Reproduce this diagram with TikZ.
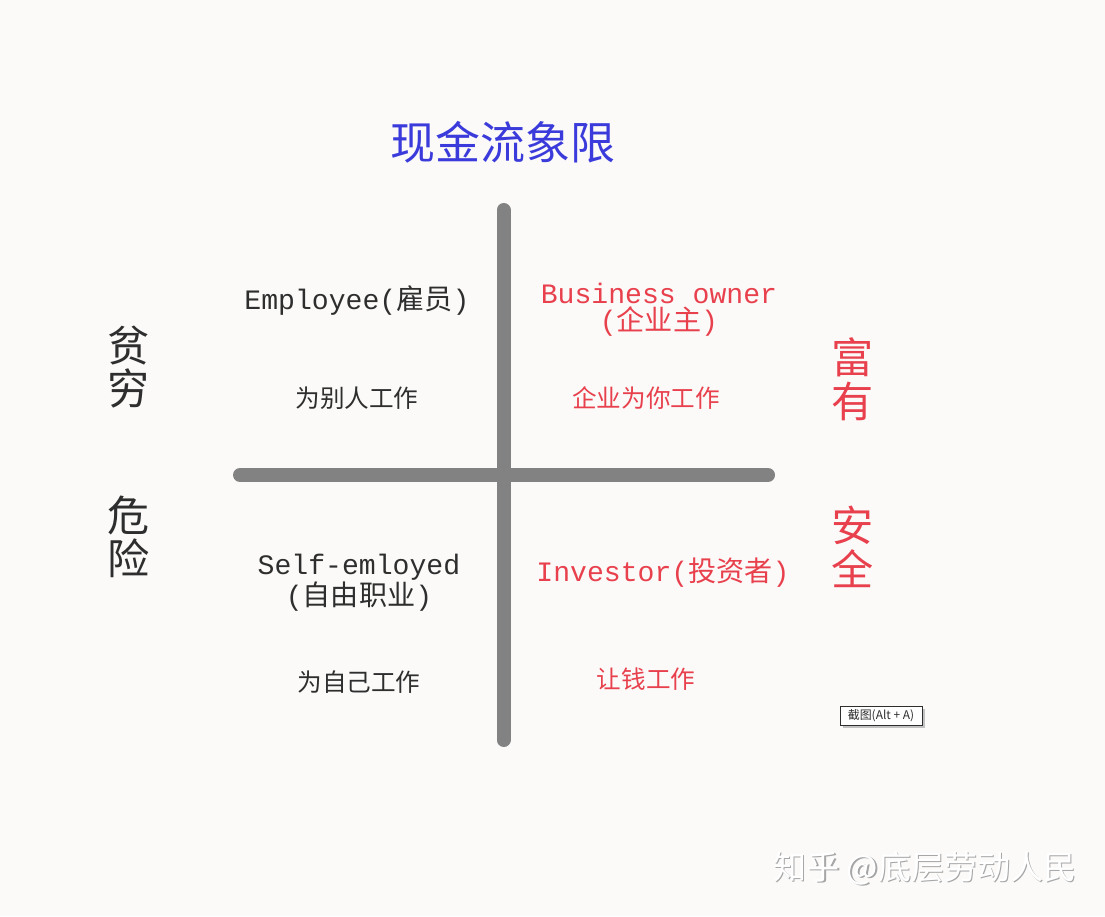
\documentclass[tikz,border=0pt]{standalone}
\usepackage{fontspec}
\setmainfont{Liberation Mono}
\newfontfamily\cjk{Noto Sans CJK SC}
\usetikzlibrary{positioning,shadows}
\definecolor{qblue}{HTML}{3B3BDB}
\definecolor{qred}{HTML}{E8404C}
\definecolor{qtext}{HTML}{2E2E2E}
\definecolor{qbar}{HTML}{828282}
\definecolor{qbg}{HTML}{FBFAF9}
\newcommand{\zh}[1]{{\cjk #1}}
\tikzset{
  role/.style={inner sep=0pt,align=center,font=\fontsize{20}{19}\selectfont},
  task/.style={inner sep=0pt,font=\cjk\fontsize{17.5}{20}\selectfont},
  side/.style={inner sep=0pt,align=center,font=\cjk\fontsize{30}{31}\selectfont},
  axis/.style={line width=14*0.025cm,qbar,line cap=round}
}

\begin{document}
\begin{tikzpicture}[x=0.025cm,y=-0.025cm]
  \fill[qbg] (0,0) rectangle (1105,916);
  \useasboundingbox (0,0) rectangle (1105,916);
  % title
  \node[inner sep=0pt,qblue,font=\cjk\fontsize{32}{34}\selectfont] (title) at (503,142) {现金流象限};
  % the two axes
  \coordinate (vtop) at (503.5,210);
  \coordinate (vbot) at (503.5,740);
  \coordinate (hleft) at (240,475);
  \coordinate (hright) at (768,475);
  \draw[axis] (vtop) -- (vbot);
  \draw[axis] (hleft) -- (hright);
  % upper quadrants
  \node[role,qtext] (emp) at (357,300) {Employee(\zh{雇员})};
  \node[task,qtext] (empw) at (357,398) {为别人工作};
  \node[role,qred] (bus) at (659,310) {Business owner\\(\zh{企业主})};
  \node[task,qred] (busw) at (646,398) {企业为你工作};
  % lower quadrants
  \node[role,qtext] (self) at (359,583) {Self-emloyed\\(\zh{自由职业})};
  \node[task,qtext] (selfw) at (359,682) {为自己工作};
  \node[role,qred] (inv) at (663,573) {Investor(\zh{投资者})};
  \node[task,qred] (invw) at (646,679) {让钱工作};
  % side words
  \node[side,qtext] (poor) at (129,367) {贫\\穷};
  \node[side,qtext] (risk) at (129,537) {危\\险};
  \node[side,qred] (rich) at (853,379) {富\\有};
  \node[side,qred] (safe) at (853,547) {安\\全};
  % tooltip
  \node[draw=qtext,fill=white,inner sep=0pt,minimum width=2.05cm,minimum height=0.475cm,
        drop shadow={opacity=0.45,shadow xshift=2pt,shadow yshift=-2pt},
        font=\cjk\fontsize{8.5}{10}\selectfont,text=qtext] (tip) at (881,716) {截图(Alt + A)};
  % watermark
  \node[inner sep=0pt,gray!70,font=\cjk\fontsize{23.5}{26}\selectfont] (wmshade) at (926.5,869.5) {知乎 @底层劳动人民};
  \node[inner sep=0pt,white,font=\cjk\fontsize{23.5}{26}\selectfont] (wm) at (925,868) {知乎 @底层劳动人民};
\end{tikzpicture}
\end{document}
